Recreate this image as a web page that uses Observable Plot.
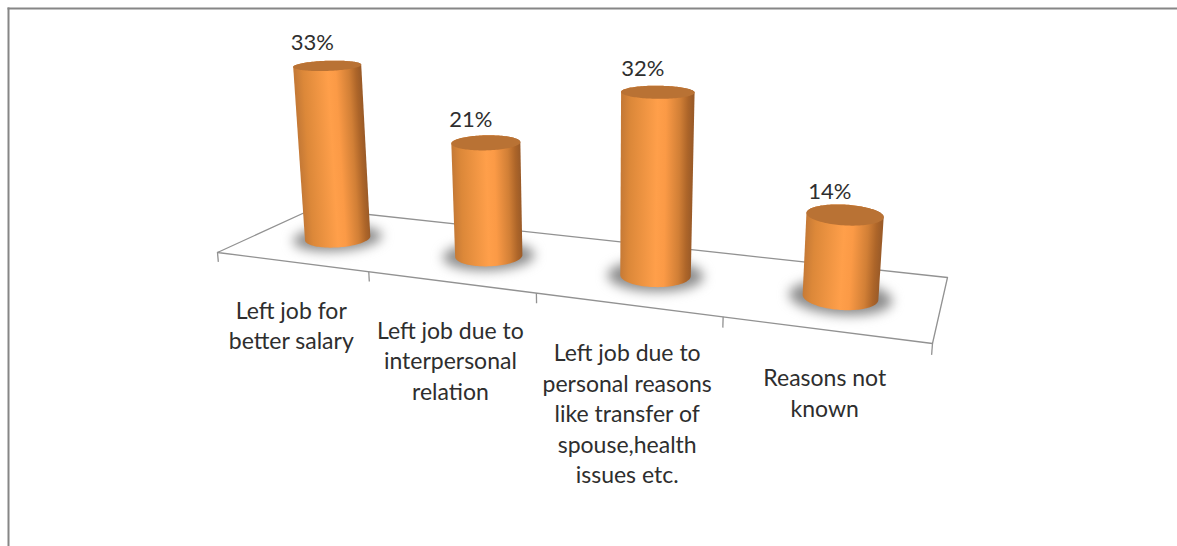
<!DOCTYPE html>
<html>
<head>
<meta charset="utf-8">
<script src="https://cdn.jsdelivr.net/npm/d3@7"></script>
<script src="https://cdn.jsdelivr.net/npm/@observablehq/plot@0.6"></script>
<style>
  html, body { margin: 0; padding: 0; background: #fff; overflow: hidden; }
  svg { display: block; }
</style>
</head>
<body>
<script>
// Reasons for leaving a job, as a share of all leavers.
const categories = [
  "Left job for\nbetter salary",
  "Left job due to\ninterpersonal\nrelation",
  "Left job due to\npersonal reasons\nlike transfer of\nspouse,health\nissues etc.",
  "Reasons not\nknown"
];
const shares = [33, 21, 32, 14];

// Chart-space camera: floor corners on screen and the vanishing point of the value axis.
const floorFrontLeft = [217, 252];
const floorFrontRight = [932, 343];
const floorBackRight = [947, 277];
const floorBackLeft = [313, 208];
const verticalVanish = [601, 4588];
const valueScale = -0.0012;
const depthOfBars = 0.49;
const radiusAlong = 0.192;   // in category units
const radiusDeep = 0.195;    // as a fraction of floor depth
const shadowGrow = 1.36;

// Perspective matrix of the floor plane (unit square to quadrilateral).
function floorMatrix([x0, y0], [x1, y1], [x2, y2], [x3, y3]) {
  const dx1 = x1 - x2, dx2 = x3 - x2, sx = x0 - x1 + x2 - x3;
  const dy1 = y1 - y2, dy2 = y3 - y2, sy = y0 - y1 + y2 - y3;
  const den = dx1 * dy2 - dx2 * dy1;
  const g = (sx * dy2 - dx2 * sy) / den;
  const h = (dx1 * sy - sx * dy1) / den;
  return {
    a: x1 - x0 + g * x1, b: x3 - x0 + h * x3, c: x0,
    d: y1 - y0 + g * y1, e: y3 - y0 + h * y3, f: y0,
    g, h
  };
}
const M = floorMatrix(floorFrontLeft, floorFrontRight, floorBackRight, floorBackLeft);

// category position u (0 to 4), depth t (0 front, 1 back), value v -> screen
function project(u, t, v) {
  const s = u / categories.length;
  const k = v * valueScale;
  const w = M.g * s + M.h * t + 1 + k;
  return [
    (M.a * s + M.b * t + M.c + k * verticalVanish[0]) / w,
    (M.d * s + M.e * t + M.f + k * verticalVanish[1]) / w
  ];
}

function ring(i, v, grow = 1, n = 120) {
  return d3.range(n + 1).map((j) => {
    const a = (j / n) * 2 * Math.PI;
    return project(
      i + 0.5 + grow * radiusAlong * Math.cos(a),
      depthOfBars + grow * radiusDeep * Math.sin(a),
      v
    );
  });
}

// Side shading across the width of a cylinder.
const shadeStops = [0, 0.12, 0.5, 0.62, 0.82, 0.93, 1];
const shadeColors = ["#c67a36", "#dc8839", "#ff9f4a", "#fb9a46", "#d17f36", "#ad6529", "#9b5b28"];

const bodies = [], caps = [], shadows = [], shadings = [];
shares.forEach((v, i) => {
  const bottom = ring(i, 0), top = ring(i, v);
  d3.polygonHull([...bottom, ...top]).forEach((q) => bodies.push({ i, x: q[0], y: q[1] }));
  top.forEach((q) => caps.push({ i, x: q[0], y: q[1] }));
  ring(i, 0, shadowGrow).forEach((q) => shadows.push({ i, x: q[0], y: q[1] }));

  // The shading runs square to the cylinder's leaning axis.
  const [bx, by] = project(i + 0.5, depthOfBars, 0);
  const [tx, ty] = project(i + 0.5, depthOfBars, v);
  const len = Math.hypot(tx - bx, ty - by);
  const half = (d3.max(bottom, (q) => q[0]) - d3.min(bottom, (q) => q[0])) / 2;
  const nx = (by - ty) / len * half, ny = (tx - bx) / len * half;
  shadings.push({ id: `body${i}`, x1: bx - nx, y1: by - ny, x2: bx + nx, y2: by + ny });
});

// Gradient definitions shared by the cylinder sides.
function shadingDefs() {
  const defs = d3.create("svg:defs");
  const grads = defs.selectAll("linearGradient").data(shadings).join("linearGradient")
    .attr("id", (d) => d.id)
    .attr("gradientUnits", "userSpaceOnUse")
    .attr("x1", (d) => d.x1).attr("y1", (d) => d.y1)
    .attr("x2", (d) => d.x2).attr("y2", (d) => d.y2);
  shadeStops.forEach((stop, j) => {
    grads.append("stop").attr("offset", stop).attr("stop-color", shadeColors[j]);
  });
  return defs.node();
}

const n = categories.length;
const floorOutline = [[0, 0], [n, 0], [n, 1], [0, 1], [0, 0]].map(([u, t]) => project(u, t, 0));
const ticks = d3.range(n + 1).map((u) => ({ a: project(u, 0, 0), b: project(u, 0, -1.8) }));
const valueLabels = shares.map((v, i) => {
  const [x, y] = project(i + 0.5, depthOfBars, v);
  return { x, y, text: `${v}%` };
});
const categoryLabels = categories.map((text, i) => {
  const [x, y] = project(i + 0.5, 0, 0);
  return { x, y, text };
});

const ink = { fontFamily: "Lato", fill: "#2e2e2e" };

const chart = Plot.plot({
  width: 1177,
  height: 546,
  marginTop: 8,
  marginLeft: 8,
  marginRight: 0,
  marginBottom: 0,
  x: { domain: [8, 1177], axis: null },
  y: { domain: [8, 546], range: [8, 546], axis: null },
  color: { type: "identity" },
  marks: [
    shadingDefs,
    Plot.frame({ anchor: "top", stroke: "#868686", strokeWidth: 2 }),
    Plot.frame({ anchor: "left", stroke: "#868686", strokeWidth: 2 }),
    Plot.line(floorOutline, { x: "0", y: "1", stroke: "#929292", strokeWidth: 1.3 }),
    Plot.link(ticks, {
      x1: (d) => d.a[0], y1: (d) => d.a[1],
      x2: (d) => d.b[0], y2: (d) => d.b[1],
      stroke: "#929292", strokeWidth: 1.3
    }),
    Plot.line(shadows, {
      x: "x", y: "y", z: "i", fill: "#8c8c8c", stroke: "none",
      curve: "linear-closed", imageFilter: "blur(6px)"
    }),
    Plot.line(bodies, {
      x: "x", y: "y", z: "i", fill: (d) => `url(#body${d.i})`, stroke: "none",
      curve: "linear-closed"
    }),
    Plot.line(caps, {
      x: "x", y: "y", z: "i", fill: "#b97234", stroke: "none",
      curve: "linear-closed"
    }),
    Plot.text(valueLabels, { x: "x", y: "y", text: "text", dx: -15, dy: -23, fontSize: 22, ...ink }),
    Plot.text(categoryLabels, {
      x: "x", y: "y", text: "text", dy: 35, lineAnchor: "top", lineHeight: 1.326, fontSize: 23, ...ink
    })
  ]
});
document.body.appendChild(chart);
</script>
</body>
</html>
